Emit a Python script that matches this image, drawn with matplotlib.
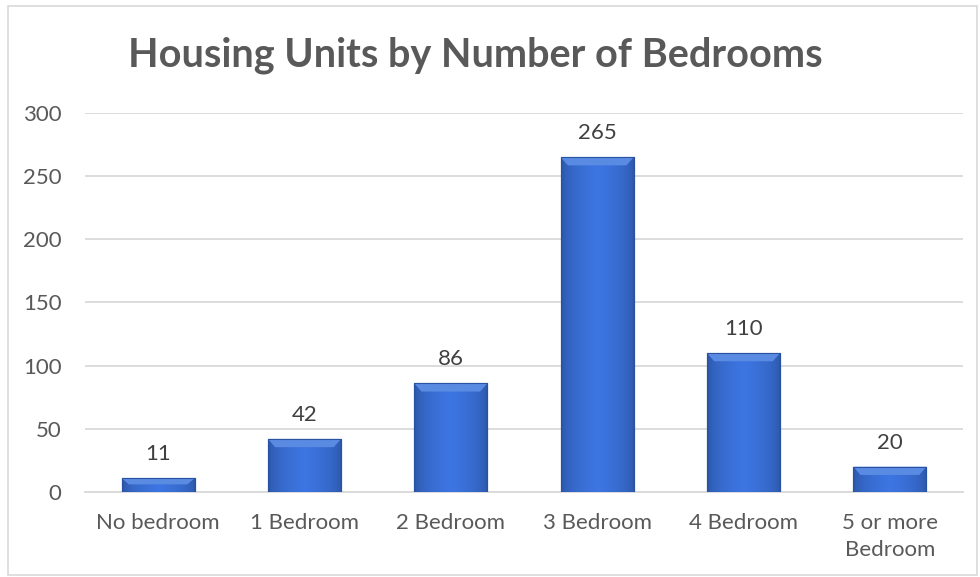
import numpy as np
import matplotlib.pyplot as plt
from matplotlib.patches import Rectangle, Polygon

categories = ['No bedroom', '1 Bedroom', '2 Bedroom', '3 Bedroom', '4 Bedroom', '5 or more\nBedroom']
units = [11, 42, 86, 265, 110, 20]
yticks = [0, 50, 100, 150, 200, 250, 300]

text_grey = '#595959'
label_grey = '#404040'
grid_grey = '#d9d9d9'

plt.rcParams['font.family'] = ['Lato', 'DejaVu Sans']

fig = plt.figure(figsize=(9.8, 5.77), dpi=100)
ax = fig.add_axes([0.0867, 0.1473, 0.8960, 0.6570])

x = np.arange(len(categories))
bars = ax.bar(x, units, width=0.5, color='#3a6fd6', edgecolor='#2a52a3',
              linewidth=0.8, zorder=3)

# horizontal shading + bevel on top of each bar
grad = np.linspace(0, 1, 64)
shade = 1 - np.abs(grad - 0.5) * 2
cols = np.zeros((1, 64, 3))
base = np.array([0x3a, 0x70, 0xd8]) / 255
cols[0] = base[None, :] * (0.72 + 0.33 * shade[:, None] ** 0.4)
cols = np.clip(cols, 0, 1)
for b in bars:
    x0, y0 = b.get_x(), b.get_y()
    w, h = b.get_width(), b.get_height()
    im = ax.imshow(cols, extent=[x0, x0 + w, y0, y0 + h], aspect='auto',
                   zorder=3.5, interpolation='bicubic')
    im.set_clip_path(b)
    bev = min(6.5, h * 0.45)
    dx = w * 0.1
    top = Polygon([[x0, y0 + h], [x0 + w, y0 + h], [x0 + w - dx, y0 + h - bev],
                   [x0 + dx, y0 + h - bev]], closed=True,
                  facecolor='#5a8be3', edgecolor='none', zorder=3.6)
    ax.add_patch(top)
    ax.add_patch(Rectangle((x0, y0), w, h, fill=False, edgecolor='#2a52a3',
                           linewidth=0.8, zorder=3.7))
    ax.text(x0 + w / 2, y0 + h + 11, str(int(h)), ha='center', va='bottom',
            fontsize=16, color=label_grey, zorder=4)

ax.set_xlim(-0.5, len(categories) - 0.5)
ax.set_ylim(0, 300)
ax.set_yticks(yticks)
ax.set_xticks(x)
ax.set_xticklabels(categories, fontsize=16, color=text_grey, linespacing=1.45)
ax.tick_params(axis='y', labelsize=16, labelcolor=text_grey, length=0, pad=17)
ax.tick_params(axis='x', length=0, pad=15)

ax.grid(axis='y', color=grid_grey, linewidth=1.3, zorder=0)
for s in ['top', 'right', 'left']:
    ax.spines[s].set_visible(False)
ax.spines['bottom'].set_color(grid_grey)
ax.spines['bottom'].set_linewidth(1.3)

fig.text(475 / 980, 1 - 55 / 577, 'Housing Units by Number of Bedrooms',
         ha='center', va='center', fontsize=28.5, fontweight='bold', color=text_grey)

fig.add_artist(Rectangle((8 / 980, 2 / 577), 969 / 980, 569 / 577, transform=fig.transFigure,
                         fill=False, edgecolor=grid_grey, linewidth=1.2))

fig.savefig('out.png', dpi=100)
